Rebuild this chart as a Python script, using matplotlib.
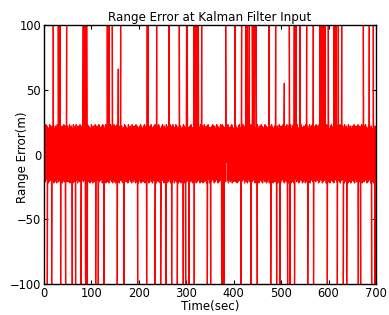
import numpy as np
import matplotlib
matplotlib.use("Agg")
import matplotlib.pyplot as plt

# Dense noise band (one value per second, 0..700 s)
band = [
 21,-20,22,-21,23,-19,22,-20,21,-22,20,-21,23,-20,22,-19,21,-21,22,-20,23,-22,20,-21,22,
 -20,21,-22,23,-19,20,-21,22,-20,23,-21,21,-19,22,-22,20,-20,23,-21,21,-22,22,-19,20,-21,
 22,-21,20,-20,23,-22,21,-19,22,-21,20,-22,23,-20,21,-21,22,-19,23,-20,21,-22,22,-20,19,
 -21,23,-20,22,-22,21,-19,20,-21,23,-20,22,-21,21,-22,20,-19,23,-21,22,-20,21,-22,20,-21,
 23,-19,21,-22,22,-20,20,-21,23,-21,22,-19,21,-20,22,-22,23,-21,20,-20,21,-19,22,-22,23,
 -20,22,-21,20,-19,23,-22,21,-20,22,-21,21,-22,20,-20,23,-19,22,-21,21,-22,20,-20,23,-21,
 22,-22,21,-19,23,-20,20,-21,22,-22,21,-20,23,-19,22,-21,20,-22,21,-20,23,-21,22,-19,21,
 -21,20,-22,23,-20,21,-19,22,-21,20,-22,23,-20,21,-21,22,-19,20,-22,23,-21,22,-20,21,-22,
 20,-20,22,-21,23,-22,21,-19,20,-21,22,-20,23,-22,21,-19,22,-21,20,-20,23,-22,21,-21,22,
 -19,23,-21,20,-22,21,-20,22,-19,23,-21,21,-22,20,-20,22,-21,23,-19,21,-22,20,-21,22,-20,
 23,-20,21,-22,22,-19,20,-21,23,-22,21,-20,22,-21,20,-19,23,-22,21,-20,22,-21,23,-19,20,
 -22,21,-20,23,-21,22,-19,20,-22,21,-21,23,-20,22,-22,20,-19,21,-21,23,-20,22,-22,21,-19,
 22,-21,23,-20,20,-22,21,-19,22,-21,23,-20,21,-22,20,-21,22,-19,23,-20,21,-22,22,-21,20,
 -20,22,-19,21,-22,23,-21,20,-20,22,-22,21,-19,23,-21,20,-20,22,-22,21,-21,23,-19,20,-22,
 21,-22,20,-21,22,-19,23,-20,21,-22,22,-21,20,-19,23,-20,22,-22,21,-21,20,-20,23,-19,22,
 -21,23,-20,22,-22,21,-20,8,-21,19,-6,22,-20,23,-22,21,-19,20,-21,22,-20,23,-22,21,-21,
 20,-19,22,-21,23,-20,21,-22,20,-21,22,-19,23,-20,21,-22,22,-21,20,-20,23,-19,21,-22,22,
 -20,21,-21,23,-22,20,-19,22,-21,21,-20,23,-22,20,-21,22,-19,23,-20,21,-22,20,-21,22,-20,
 23,-21,20,-22,22,-19,21,-20,23,-21,22,-22,20,-19,21,-21,23,-20,22,-22,20,-21,21,-19,23,
 -22,20,-21,22,-20,23,-19,21,-22,20,-21,22,-20,23,-21,21,-19,22,-22,20,-20,23,-21,21,-22,
 22,-20,21,-19,23,-21,20,-22,22,-20,21,-21,23,-19,20,-22,22,-21,21,-20,23,-22,20,-19,22,
 -21,23,-22,20,-20,21,-19,22,-21,23,-20,20,-22,21,-21,22,-19,23,-20,21,-22,20,-21,22,-20,
 20,-22,23,-21,21,-19,22,-20,20,-21,23,-22,21,-20,22,-19,23,-21,20,-22,21,-20,22,-21,23,
 -19,22,-20,21,-22,23,-21,20,-19,22,-20,21,-22,23,-21,20,-20,22,-19,21,-22,23,-20,22,-21,
 21,-21,20,-22,22,-19,23,-20,21,-21,22,-22,20,-20,23,-19,21,-21,22,-22,20,-20,23,-21,21,
 -22,23,-20,21,-19,22,-21,20,-22,23,-20,21,-21,22,-19,20,-22,23,-21,21,-20,22,-22,20,-19,
 22,-20,21,-21,23,-22,20,-19,22,-21,21,-20,23,-22,20,-21,22,-19,21,-20,23,-22,22,-21,20,
 -21,22,-19,23,-20,21,-22,20,-21,22,-20,23,-19,21,-22,22,-20,20,-21,23,-22,21,-19,22,-21,
 20,
]

# Upward outliers (beyond +100) and downward outliers (beyond -100)
up_times = [19.6, 30.2, 33.7, 47.9, 82.9, 86.4, 90.0, 133.5, 137.0, 144.0, 161.7,
            217.8, 219.9, 237.6, 263.5, 285.2, 300.9, 302.0, 316.3, 318.4, 322.0,
            325.3, 332.5, 383.0, 402.7, 416.8, 425.2, 428.6, 432.9, 439.2, 442.8,
            447.0, 474.4, 488.5, 517.2, 527.7, 531.3, 539.7, 553.9, 567.8, 581.9,
            585.5, 588.8, 592.4, 599.4, 611.4, 615.6, 620.5, 627.7, 673.2, 685.9, 694.3]
down_times = [7.0, 16.2, 35.2, 45.8, 59.7, 66.8, 78.0, 87.9, 91.3, 109.0, 114.5,
              126.5, 154.5, 168.7, 197.6, 216.5, 234.0, 246.0, 257.2, 269.2, 281.0,
              293.7, 298.8, 305.7, 316.8, 344.3, 351.5, 374.7, 376.8, 379.5, 415.4,
              436.5, 449.7, 478.0, 490.6, 497.6, 513.8, 518.7, 528.2, 556.0, 568.3,
              597.3, 618.4, 631.0, 638.2, 662.7, 667.7, 690.9, 697.9]
mid_times = [156.7, 506.7]
mid_values = [66, 55]
outlier_level = 130

t_band = np.arange(len(band), dtype=float)
t_all = np.concatenate([t_band, up_times, down_times, mid_times])
y_all = np.concatenate([band,
                        np.full(len(up_times), outlier_level),
                        np.full(len(down_times), -outlier_level),
                        mid_values]).astype(float)
order = np.argsort(t_all, kind="stable")

plt.rcParams['font.family'] = ['DejaVu Sans']
fig = plt.figure(figsize=(3.89, 3.15), dpi=100)
ax = fig.add_axes([0.113, 0.0984, 0.8536, 0.8222])
ax.plot(t_all[order], y_all[order], color='#ff0000', lw=0.9)
ax.set_xlim(0, 700)
ax.set_ylim(-100, 100)
ax.set_xticks(range(0, 701, 100))
ax.set_yticks([-100, -50, 0, 50, 100])
ax.tick_params(direction='in', length=3, width=0.8, labelsize=8.3,
               top=True, right=True, pad=2)
for s in ax.spines.values():
    s.set_linewidth(1.0)
ax.set_title('Range Error at Kalman Filter Input', fontsize=8.6, pad=3)
ax.set_xlabel('Time(sec)', fontsize=8.6, labelpad=0)
ax.set_ylabel('Range Error(m)', fontsize=8.6, va='center')
ax.yaxis.set_label_coords(-0.066, 0.49)
fig.savefig('out.png', dpi=100)
